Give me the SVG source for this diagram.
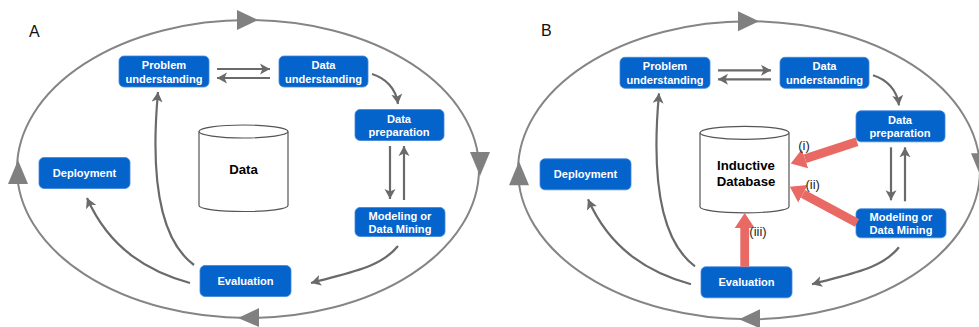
<svg xmlns="http://www.w3.org/2000/svg" width="979" height="327" viewBox="0 0 979 327">
<style>
.bg{fill:#fff}
.box{fill:#0563cc;stroke:#3f87dc;stroke-width:.8}
.t{font-family:"Liberation Sans",Arial,sans-serif;font-size:11.1px;font-weight:700;fill:#fff;text-anchor:middle}
.d{font-family:"Liberation Sans",Arial,sans-serif;font-size:13.2px;font-weight:700;fill:#000;text-anchor:middle}
.l{font-family:"Liberation Sans",Arial,sans-serif;font-size:13px;fill:#222;text-anchor:middle;opacity:.98}
.p{font-family:"Liberation Sans",Arial,sans-serif;font-size:16px;fill:#111}
.o{fill:none;stroke:#858585;stroke-width:2}
.h{fill:#808080}
.a{fill:none;stroke:#6a6a6a;stroke-width:2.2;marker-end:url(#ah)}
.r{fill:none;stroke:#e96a64;stroke-width:8.8;marker-end:url(#rh)}
.c{fill:#fff;stroke:#555;stroke-width:1.2}
</style>
<defs>
<marker id="ah" viewBox="-10 -6 11 12" refX="0" refY="0" markerWidth="11" markerHeight="12" markerUnits="userSpaceOnUse" orient="auto"><path d="M-10,-5.500 L0,0 L-10,5.500 L-7.500,0 Z" fill="#6a6a6a"/></marker>
<marker id="rh" viewBox="0 -11 16 22" refX="0" refY="0" markerWidth="16" markerHeight="22" markerUnits="userSpaceOnUse" orient="auto"><path d="M0,-10 L15,0 L0,10 Z" fill="#e96a64"/></marker>
</defs>
<rect class="bg" width="979" height="327"/>

<g id="panel-a">
<text class="p" x="29" y="37">A</text>
<g id="a-connectors">
<ellipse class="o" cx="248" cy="169" rx="231" ry="149"/>
<polygon class="h" points="237,10 258,20 237,30"/>
<polygon class="h" points="470,152 490,152 480,176"/>
<polygon class="h" points="259,308 238,318 259,327"/>
<polygon class="h" points="8,184 28,184 18,160"/>
<path class="a" d="M217,69 H270"/>
<path class="a" d="M270,78 H217"/>
<path class="a" d="M372,74 C385,78 396,88 398,104"/>
<path class="a" d="M390,146 V199"/>
<path class="a" d="M404,200 V146"/>
<path class="a" d="M398,246 C380,268 350,272 311,283"/>
<path class="a" d="M194,265 C160,240 150,180 158,92"/>
<path class="a" d="M190,283 C150,272 110,250 87,198"/>
</g>
<g id="a-problem"><rect class="box" x="119" y="56" width="90" height="31" rx="5"/><text class="t" x="164" y="69">Problem</text><text class="t" x="164" y="82.500">understanding</text></g>
<g id="a-understanding"><rect class="box" x="279" y="56" width="89" height="31" rx="5"/><text class="t" x="323.500" y="69">Data</text><text class="t" x="323.500" y="82.500">understanding</text></g>
<g id="a-preparation"><rect class="box" x="355" y="109.500" width="89" height="31" rx="5"/><text class="t" x="399" y="122.500">Data</text><text class="t" x="399" y="136">preparation</text></g>
<g id="a-modeling"><rect class="box" x="355" y="207.500" width="90" height="29" rx="5"/><text class="t" x="400" y="219.500">Modeling or</text><text class="t" x="400" y="233">Data Mining</text></g>
<g id="a-evaluation"><rect class="box" x="200" y="265.500" width="91" height="31" rx="5"/><text class="t" x="245.500" y="285">Evaluation</text></g>
<g id="a-deployment"><rect class="box" x="39" y="157.500" width="91" height="31" rx="5"/><text class="t" x="84.500" y="177">Deployment</text></g>
<g id="a-data"><path class="c" d="M199,131.500 V205.500 C199,209 219,211.500 243.500,211.500 C268,211.500 288,209 288,205.500 V131.500"/><ellipse class="c" cx="243.500" cy="131.500" rx="44.500" ry="6.500"/><text class="d" x="243.500" y="174">Data</text></g>
</g>

<g id="panel-b" transform="translate(501 1.3)">
<text class="p" x="40" y="35">B</text>
<g id="b-connectors">
<ellipse class="o" cx="248" cy="169" rx="231" ry="149"/>
<polygon class="h" points="237,10 258,20 237,30"/>
<polygon class="h" points="470,152 490,152 480,176"/>
<polygon class="h" points="259,308 238,318 259,327"/>
<polygon class="h" points="8,184 28,184 18,160"/>
<path class="a" d="M217,69 H270"/>
<path class="a" d="M270,78 H217"/>
<path class="a" d="M372,74 C385,78 396,88 398,104"/>
<path class="a" d="M390,146 V199"/>
<path class="a" d="M404,200 V146"/>
<path class="a" d="M398,246 C380,268 350,272 311,283"/>
<path class="a" d="M194,265 C160,240 150,180 158,92"/>
<path class="a" d="M190,283 C150,272 110,250 87,198"/>
</g>
<g id="b-problem"><rect class="box" x="119" y="56" width="90" height="31" rx="5"/><text class="t" x="164" y="69">Problem</text><text class="t" x="164" y="82.500">understanding</text></g>
<g id="b-understanding"><rect class="box" x="279" y="56" width="89" height="31" rx="5"/><text class="t" x="323.500" y="69">Data</text><text class="t" x="323.500" y="82.500">understanding</text></g>
<g id="b-preparation"><rect class="box" x="355" y="109.500" width="89" height="31" rx="5"/><text class="t" x="399" y="122.500">Data</text><text class="t" x="399" y="136">preparation</text></g>
<g id="b-modeling"><rect class="box" x="355" y="207.500" width="90" height="29" rx="5"/><text class="t" x="400" y="219.500">Modeling or</text><text class="t" x="400" y="233">Data Mining</text></g>
<g id="b-evaluation"><rect class="box" x="200" y="265.500" width="91" height="31" rx="5"/><text class="t" x="245.500" y="285">Evaluation</text></g>
<g id="b-deployment"><rect class="box" x="39" y="157.500" width="91" height="31" rx="5"/><text class="t" x="84.500" y="177">Deployment</text></g>
<g id="b-database"><path class="c" d="M199,131.500 V205.500 C199,209 219,211.500 243.500,211.500 C268,211.500 288,209 288,205.500 V131.500"/><ellipse class="c" cx="243.500" cy="131.500" rx="44.500" ry="6.500"/><text class="d" x="245" y="169">Inductive</text><text class="d" x="245" y="185">Database</text></g>
<g id="b-red-connectors">
<path class="r" d="M356,140.500 L304,157.500"/>
<path class="r" d="M356,221.500 L302,192.500"/>
<path class="r" d="M243.700,265.400 V226.700"/>
</g>
<text class="l" x="303" y="148.500">(i)</text>
<text class="l" x="311.700" y="187.500">(ii)</text>
<text class="l" x="257" y="234.500">(iii)</text>
</g>
</svg>
